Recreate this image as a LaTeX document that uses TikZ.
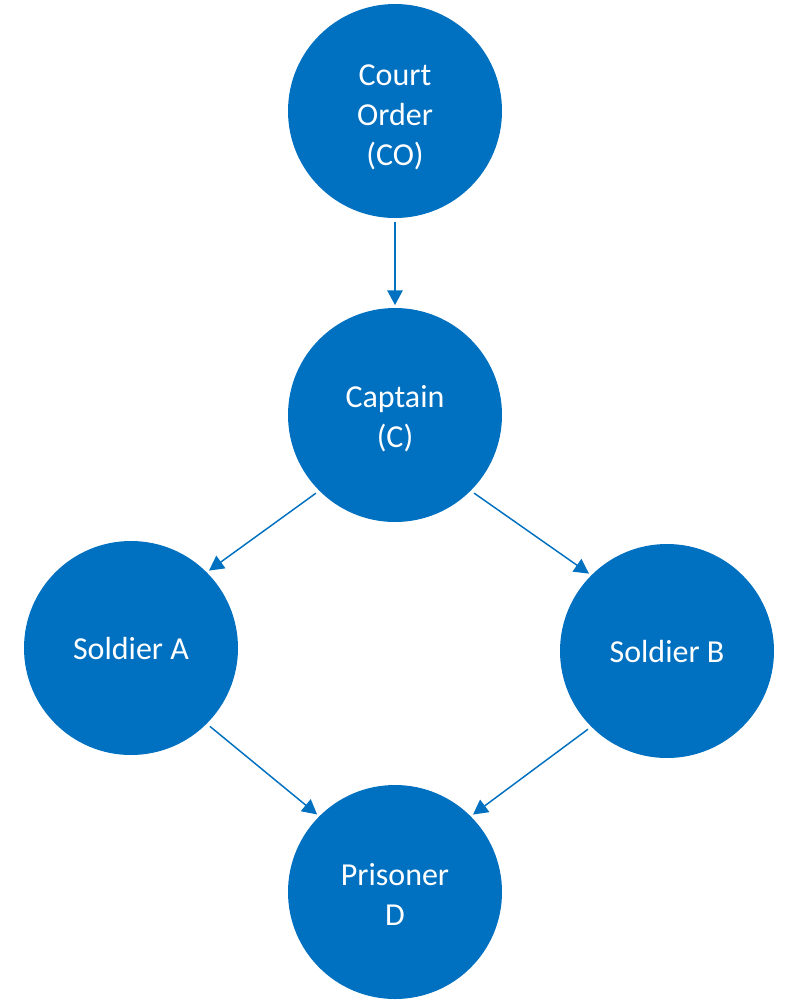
\documentclass[tikz,border=0pt]{standalone}
\usepackage{fontspec}
\setmainfont{Carlito}
\usetikzlibrary{arrows.meta}
\definecolor{nodeblue}{HTML}{0070C0}
\begin{document}
\begin{tikzpicture}[x=0.75pt,y=-0.75pt,
  person/.style={circle,fill=nodeblue,draw=none,minimum size=160.5pt,inner sep=0pt},
  caption/.style={text=white,align=center,inner sep=0pt,
    font=\fontsize{24pt}{30pt}\selectfont},
  link/.style={draw=nodeblue,line width=1.1pt,-{Triangle[length=11pt,width=11.5pt]},
    shorten <=3pt,shorten >=2pt}]
\useasboundingbox (0,0) rectangle (789,1000);
\node[person,label={[caption,yshift=-4.5pt]center:{Court\\Order\\(CO)}}] (co) at (395,111) {};
\node[person,label={[caption,yshift=-2.5pt]center:{Captain\\(C)}}] (cap) at (395,415) {};
\node[person,label={[caption]center:{Soldier A}}] (sa) at (131,648) {};
\node[person,label={[caption]center:{Soldier B}}] (sb) at (667,651) {};
\node[person,label={[caption,yshift=-1.5pt]center:{Prisoner\\D}}] (pd) at (395,892) {};
\draw[link] (co.south) -- (cap.north);
\draw[link] (cap.south west) -- (sa.north east);
\draw[link] (cap.south east) -- (sb.north west);
\draw[link] (sa.south east) -- (pd.north west);
\draw[link] (sb.south west) -- (pd.north east);
\end{tikzpicture}
\end{document}
